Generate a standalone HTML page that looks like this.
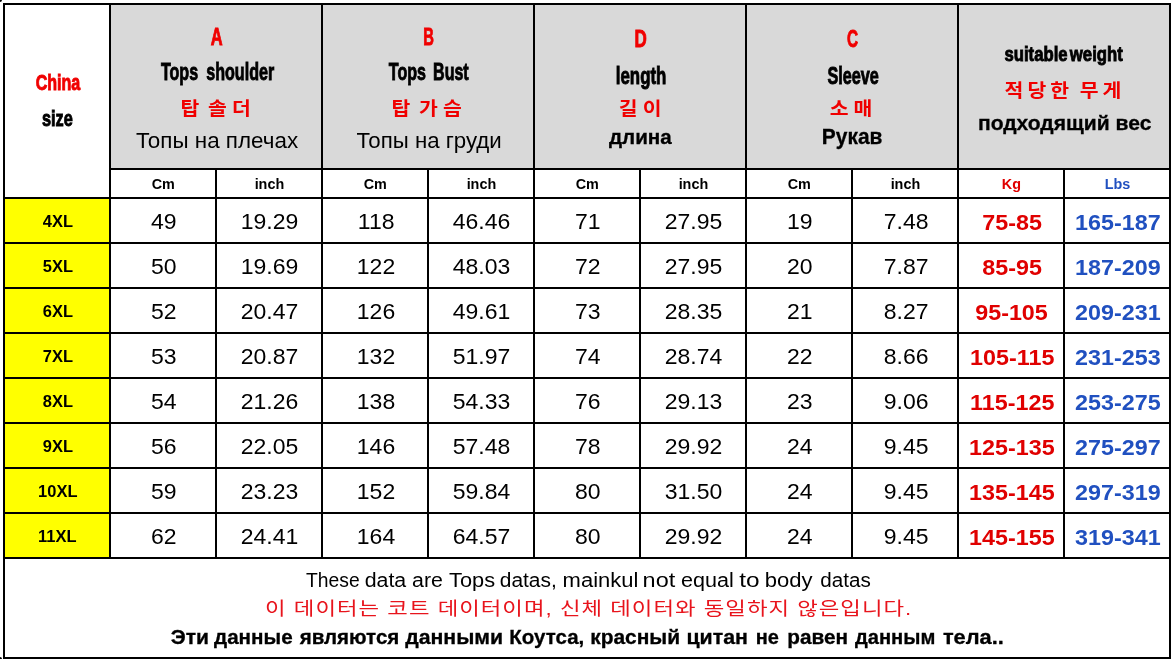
<!DOCTYPE html>
<html lang="en"><head><meta charset="utf-8"><title>Size chart</title>
<style>
html,body{margin:0;padding:0;background:#fff}
#c{position:relative;width:1173px;height:659px;overflow:hidden;background:#fff}
#c div{position:absolute}
#c .t{width:1600px;text-align:center;white-space:nowrap;line-height:1}
#c .t span{display:inline-block;transform-origin:50% 50%}
</style></head><body><div id="c">
<div style="left:111px;top:5px;width:1058px;height:163px;background:#d9d9d9"></div>
<div style="left:5px;top:199px;width:104px;height:358px;background:#ffff00"></div>
<div style="left:3px;top:3px;width:2px;height:656px;background:#000"></div>
<div style="left:109px;top:3px;width:2px;height:556px;background:#000"></div>
<div style="left:215px;top:168px;width:2px;height:391px;background:#000"></div>
<div style="left:321px;top:3px;width:2px;height:556px;background:#000"></div>
<div style="left:427px;top:168px;width:2px;height:391px;background:#000"></div>
<div style="left:533px;top:3px;width:2px;height:556px;background:#000"></div>
<div style="left:639px;top:168px;width:2px;height:391px;background:#000"></div>
<div style="left:745px;top:3px;width:2px;height:556px;background:#000"></div>
<div style="left:851px;top:168px;width:2px;height:391px;background:#000"></div>
<div style="left:957px;top:3px;width:2px;height:556px;background:#000"></div>
<div style="left:1063px;top:168px;width:2px;height:391px;background:#000"></div>
<div style="left:1169px;top:3px;width:2px;height:656px;background:#000"></div>
<div style="left:3px;top:3px;width:1168px;height:2px;background:#000"></div>
<div style="left:109px;top:168px;width:1062px;height:2px;background:#000"></div>
<div style="left:3px;top:197px;width:1168px;height:2px;background:#000"></div>
<div style="left:3px;top:242px;width:1168px;height:2px;background:#000"></div>
<div style="left:3px;top:287px;width:1168px;height:2px;background:#000"></div>
<div style="left:3px;top:332px;width:1168px;height:2px;background:#000"></div>
<div style="left:3px;top:377px;width:1168px;height:2px;background:#000"></div>
<div style="left:3px;top:422px;width:1168px;height:2px;background:#000"></div>
<div style="left:3px;top:467px;width:1168px;height:2px;background:#000"></div>
<div style="left:3px;top:512px;width:1168px;height:2px;background:#000"></div>
<div style="left:3px;top:557px;width:1168px;height:2px;background:#000"></div>
<div style="left:3px;top:657px;width:1168px;height:2px;background:#000"></div>
<div style="left:0;top:0;width:2px;height:2px;background:#000;border-radius:0 0 2px 0"></div>
<div style="left:0;top:657px;width:2px;height:2px;background:#000;border-radius:0 2px 0 0"></div>
<div class="t" id="hA1" style='left:-583.21px;top:24.98px;font-size:23.80px;color:#f00000;font-weight:700;font-family:"Liberation Sans", sans-serif'><span style="transform:scaleX(0.6909);-webkit-text-stroke:0.9px currentColor">A</span></div>
<div class="t" id="hA2" style='left:-582.40px;top:59.51px;font-size:24.00px;color:#000;font-weight:700;font-family:"Liberation Sans", sans-serif'><span style="transform:scaleX(0.6702);word-spacing:5.50px;-webkit-text-stroke:0.9px currentColor">Tops shoulder</span></div>
<div class="t" id="hA3" style='left:-584.28px;top:99.92px;font-size:18.60px;color:#f00000;font-weight:700;font-family:"Liberation Sans", "Noto Sans CJK KR", "NanumGothic", sans-serif'><span style="transform:scaleX(1.1000);letter-spacing:4.66px;margin-right:-4.66px;word-spacing:-6.70px">탑 솔더</span></div>
<div class="t" id="hA4" style='left:-582.63px;top:130.25px;font-size:22.40px;color:#000;font-weight:400;font-family:"Liberation Sans", sans-serif'><span style="transform:scaleX(1.0009)">Топы на плечах</span></div>
<div class="t" id="hB1" style='left:-371.83px;top:24.98px;font-size:23.80px;color:#f00000;font-weight:700;font-family:"Liberation Sans", sans-serif'><span style="transform:scaleX(0.6211);-webkit-text-stroke:0.9px currentColor">B</span></div>
<div class="t" id="hB2" style='left:-371.55px;top:59.51px;font-size:24.00px;color:#000;font-weight:700;font-family:"Liberation Sans", sans-serif'><span style="transform:scaleX(0.6675);word-spacing:4.00px;-webkit-text-stroke:0.9px currentColor">Tops Bust</span></div>
<div class="t" id="hB3" style='left:-373.33px;top:99.92px;font-size:18.60px;color:#f00000;font-weight:700;font-family:"Liberation Sans", "Noto Sans CJK KR", "NanumGothic", sans-serif'><span style="transform:scaleX(1.1000);letter-spacing:4.69px;margin-right:-4.69px;word-spacing:-6.70px">탑 가슴</span></div>
<div class="t" id="hB4" style='left:-370.64px;top:129.96px;font-size:22.40px;color:#000;font-weight:400;font-family:"Liberation Sans", sans-serif'><span style="transform:scaleX(0.9936)">Топы на груди</span></div>
<div class="t" id="hD1" style='left:-159.30px;top:27.17px;font-size:23.80px;color:#f00000;font-weight:700;font-family:"Liberation Sans", sans-serif'><span style="transform:scaleX(0.7136);-webkit-text-stroke:0.9px currentColor">D</span></div>
<div class="t" id="hD2" style='left:-158.87px;top:65.22px;font-size:23.40px;color:#000;font-weight:700;font-family:"Liberation Sans", sans-serif'><span style="transform:scaleX(0.7198);-webkit-text-stroke:0.9px currentColor">length</span></div>
<div class="t" id="hD3" style='left:-159.55px;top:100.04px;font-size:18.60px;color:#f00000;font-weight:700;font-family:"Liberation Sans", "Noto Sans CJK KR", "NanumGothic", sans-serif'><span style="transform:scaleX(1.1000);letter-spacing:4.52px;margin-right:-4.52px;word-spacing:-3.00px">길이</span></div>
<div class="t" id="hD4" style='left:-159.55px;top:126.87px;font-size:20.60px;color:#000;font-weight:700;font-family:"Liberation Sans", sans-serif'><span style="transform:scaleX(1.0015);-webkit-text-stroke:0.3px currentColor">длина</span></div>
<div class="t" id="hC1" style='left:52.31px;top:27.16px;font-size:23.80px;color:#f00000;font-weight:700;font-family:"Liberation Sans", sans-serif'><span style="transform:scaleX(0.6448);-webkit-text-stroke:0.9px currentColor">C</span></div>
<div class="t" id="hC2" style='left:53.20px;top:64.85px;font-size:23.40px;color:#000;font-weight:700;font-family:"Liberation Sans", sans-serif'><span style="transform:scaleX(0.6930);-webkit-text-stroke:0.9px currentColor">Sleeve</span></div>
<div class="t" id="hC3" style='left:51.49px;top:100.11px;font-size:18.60px;color:#f00000;font-weight:700;font-family:"Liberation Sans", "Noto Sans CJK KR", "NanumGothic", sans-serif'><span style="transform:scaleX(1.1000);letter-spacing:4.43px;margin-right:-4.43px;word-spacing:-3.00px">소매</span></div>
<div class="t" id="hC4" style='left:52.49px;top:126.99px;font-size:21.50px;color:#000;font-weight:700;font-family:"Liberation Sans", sans-serif'><span style="transform:scaleX(0.9734);-webkit-text-stroke:0.3px currentColor">Рукав</span></div>
<div class="t" id="hW2" style='left:264.03px;top:44.00px;font-size:20.80px;color:#000;font-weight:700;font-family:"Liberation Sans", sans-serif'><span style="transform:scaleX(0.8039);word-spacing:-3.00px;-webkit-text-stroke:0.9px currentColor">suitable weight</span></div>
<div class="t" id="hW3" style='left:262.73px;top:82.23px;font-size:18.60px;color:#f00000;font-weight:700;font-family:"Liberation Sans", "Noto Sans CJK KR", "NanumGothic", sans-serif'><span style="transform:scaleX(1.1000);letter-spacing:3.71px;margin-right:-3.71px;word-spacing:-3.00px">적당한 무게</span></div>
<div class="t" id="hW4" style='left:264.53px;top:113.21px;font-size:20.80px;color:#000;font-weight:700;font-family:"Liberation Sans", sans-serif'><span style="transform:scaleX(1.0126);-webkit-text-stroke:0.3px currentColor">подходящий вес</span></div>
<div class="t" id="hS1" style='left:-742.08px;top:71.92px;font-size:22.30px;color:#f00000;font-weight:700;font-family:"Liberation Sans", sans-serif'><span style="transform:scaleX(0.7206);-webkit-text-stroke:0.9px currentColor">China</span></div>
<div class="t" id="hS2" style='left:-742.19px;top:109.37px;font-size:21.50px;color:#000;font-weight:700;font-family:"Liberation Sans", sans-serif'><span style="transform:scaleX(0.7589);-webkit-text-stroke:0.9px currentColor">size</span></div>
<div class="t" id="f1w0" style='left:-467.12px;top:570.03px;font-size:20.00px;color:#000;font-weight:400;font-family:"Liberation Sans", sans-serif'><span style="transform:scaleX(0.9651)">These </span></div>
<div class="t" id="f1w1" style='left:-414.50px;top:570.03px;font-size:20.00px;color:#000;font-weight:400;font-family:"Liberation Sans", sans-serif'><span style="transform:scaleX(1.0677)">data </span></div>
<div class="t" id="f1w2" style='left:-372.80px;top:570.03px;font-size:20.00px;color:#000;font-weight:400;font-family:"Liberation Sans", sans-serif'><span style="transform:scaleX(1.0677)">are </span></div>
<div class="t" id="f1w3" style='left:-327.95px;top:570.03px;font-size:20.00px;color:#000;font-weight:400;font-family:"Liberation Sans", sans-serif'><span style="transform:scaleX(1.0888)">Tops </span></div>
<div class="t" id="f1w4" style='left:-271.45px;top:570.03px;font-size:20.00px;color:#000;font-weight:400;font-family:"Liberation Sans", sans-serif'><span style="transform:scaleX(1.0463)">datas, </span></div>
<div class="t" id="f1w5" style='left:-200.00px;top:570.03px;font-size:20.00px;color:#000;font-weight:400;font-family:"Liberation Sans", sans-serif'><span style="transform:scaleX(1.0983)">mainkul </span></div>
<div class="t" id="f1w6" style='left:-141.13px;top:570.03px;font-size:20.00px;color:#000;font-weight:400;font-family:"Liberation Sans", sans-serif'><span style="transform:scaleX(1.1724)">not </span></div>
<div class="t" id="f1w7" style='left:-92.20px;top:570.03px;font-size:20.00px;color:#000;font-weight:400;font-family:"Liberation Sans", sans-serif'><span style="transform:scaleX(1.0785)">equal </span></div>
<div class="t" id="f1w8" style='left:-50.85px;top:570.03px;font-size:20.00px;color:#000;font-weight:400;font-family:"Liberation Sans", sans-serif'><span style="transform:scaleX(1.2195)">to </span></div>
<div class="t" id="f1w9" style='left:-11.82px;top:570.03px;font-size:20.00px;color:#000;font-weight:400;font-family:"Liberation Sans", sans-serif'><span style="transform:scaleX(1.1019)">body </span></div>
<div class="t" id="f1w10" style='left:45.75px;top:570.03px;font-size:20.00px;color:#000;font-weight:400;font-family:"Liberation Sans", sans-serif'><span style="transform:scaleX(1.0311)">datas</span></div>
<div class="t" id="f2" style='left:-212.06px;top:599.72px;font-size:18.60px;color:#e8141c;font-weight:400;font-family:"Liberation Sans", "Noto Sans CJK KR", "NanumGothic", sans-serif'><span style="transform:scaleX(1.2000);letter-spacing:0.86px;margin-right:-0.86px">이 데이터는 코트 데이터이며, 신체 데이터와 동일하지 않은입니다.</span></div>
<div class="t" id="f3w0" style='left:-610.15px;top:627.72px;font-size:19.60px;color:#000;font-weight:700;font-family:"Liberation Sans", sans-serif'><span style="transform:scaleX(1.0747);-webkit-text-stroke:0.3px currentColor">Эти </span></div>
<div class="t" id="f3w1" style='left:-546.63px;top:627.72px;font-size:19.60px;color:#000;font-weight:700;font-family:"Liberation Sans", sans-serif'><span style="transform:scaleX(1.0526);-webkit-text-stroke:0.3px currentColor">данные </span></div>
<div class="t" id="f3w2" style='left:-450.31px;top:627.72px;font-size:19.60px;color:#000;font-weight:700;font-family:"Liberation Sans", sans-serif'><span style="transform:scaleX(1.0492);-webkit-text-stroke:0.3px currentColor">являются </span></div>
<div class="t" id="f3w3" style='left:-345.76px;top:627.72px;font-size:19.60px;color:#000;font-weight:700;font-family:"Liberation Sans", sans-serif'><span style="transform:scaleX(1.0845);-webkit-text-stroke:0.3px currentColor">данными </span></div>
<div class="t" id="f3w4" style='left:-253.55px;top:627.72px;font-size:19.60px;color:#000;font-weight:700;font-family:"Liberation Sans", sans-serif'><span style="transform:scaleX(1.0462);-webkit-text-stroke:0.3px currentColor">Коутса, </span></div>
<div class="t" id="f3w5" style='left:-165.30px;top:627.72px;font-size:19.60px;color:#000;font-weight:700;font-family:"Liberation Sans", sans-serif'><span style="transform:scaleX(1.0671);-webkit-text-stroke:0.3px currentColor">красный </span></div>
<div class="t" id="f3w6" style='left:-82.60px;top:627.72px;font-size:19.60px;color:#000;font-weight:700;font-family:"Liberation Sans", sans-serif'><span style="transform:scaleX(1.0885);-webkit-text-stroke:0.3px currentColor">цитан </span></div>
<div class="t" id="f3w7" style='left:-32.60px;top:627.72px;font-size:19.60px;color:#000;font-weight:700;font-family:"Liberation Sans", sans-serif'><span style="transform:scaleX(1.0199);-webkit-text-stroke:0.3px currentColor">не </span></div>
<div class="t" id="f3w8" style='left:17.25px;top:627.72px;font-size:19.60px;color:#000;font-weight:700;font-family:"Liberation Sans", sans-serif'><span style="transform:scaleX(1.0584);-webkit-text-stroke:0.3px currentColor">равен </span></div>
<div class="t" id="f3w9" style='left:94.90px;top:627.72px;font-size:19.60px;color:#000;font-weight:700;font-family:"Liberation Sans", sans-serif'><span style="transform:scaleX(1.0276);-webkit-text-stroke:0.3px currentColor">данным </span></div>
<div class="t" id="f3w10" style='left:173.30px;top:627.72px;font-size:19.60px;color:#000;font-weight:700;font-family:"Liberation Sans", sans-serif'><span style="transform:scaleX(1.1130);-webkit-text-stroke:0.3px currentColor">тела..</span></div>
<div class="t" id="u0" style='left:-636.83px;top:177.10px;font-size:14.00px;color:#000;font-weight:700;font-family:"Liberation Sans", sans-serif'><span style="transform:scaleX(1.0260)">Cm</span></div>
<div class="t" id="u1" style='left:-530.83px;top:177.10px;font-size:14.00px;color:#000;font-weight:700;font-family:"Liberation Sans", sans-serif'><span style="transform:scaleX(1.0260)">inch</span></div>
<div class="t" id="u2" style='left:-424.83px;top:177.10px;font-size:14.00px;color:#000;font-weight:700;font-family:"Liberation Sans", sans-serif'><span style="transform:scaleX(1.0260)">Cm</span></div>
<div class="t" id="u3" style='left:-318.83px;top:177.10px;font-size:14.00px;color:#000;font-weight:700;font-family:"Liberation Sans", sans-serif'><span style="transform:scaleX(1.0260)">inch</span></div>
<div class="t" id="u4" style='left:-212.83px;top:177.10px;font-size:14.00px;color:#000;font-weight:700;font-family:"Liberation Sans", sans-serif'><span style="transform:scaleX(1.0260)">Cm</span></div>
<div class="t" id="u5" style='left:-106.83px;top:177.10px;font-size:14.00px;color:#000;font-weight:700;font-family:"Liberation Sans", sans-serif'><span style="transform:scaleX(1.0260)">inch</span></div>
<div class="t" id="u6" style='left:-0.83px;top:177.10px;font-size:14.00px;color:#000;font-weight:700;font-family:"Liberation Sans", sans-serif'><span style="transform:scaleX(1.0260)">Cm</span></div>
<div class="t" id="u7" style='left:105.17px;top:177.10px;font-size:14.00px;color:#000;font-weight:700;font-family:"Liberation Sans", sans-serif'><span style="transform:scaleX(1.0260)">inch</span></div>
<div class="t" id="u8" style='left:211.17px;top:177.10px;font-size:14.00px;color:#e00000;font-weight:700;font-family:"Liberation Sans", sans-serif'><span style="transform:scaleX(1.0260)">Kg</span></div>
<div class="t" id="u9" style='left:317.17px;top:177.10px;font-size:14.00px;color:#2050c0;font-weight:700;font-family:"Liberation Sans", sans-serif'><span style="transform:scaleX(1.0260)">Lbs</span></div>
<div class="t" id="r0c0" style='left:-742.37px;top:212.70px;font-size:17.40px;color:#000;font-weight:700;font-family:"Liberation Sans", sans-serif'><span style="transform:scaleX(0.9462)">4XL</span></div>
<div class="t" id="r0c1" style='left:-636.07px;top:210.41px;font-size:22.80px;color:#000;font-weight:400;font-family:"Liberation Sans", sans-serif'><span style="transform:scaleX(1.0089)">49</span></div>
<div class="t" id="r0c2" style='left:-530.07px;top:210.41px;font-size:22.80px;color:#000;font-weight:400;font-family:"Liberation Sans", sans-serif'><span style="transform:scaleX(1.0089)">19.29</span></div>
<div class="t" id="r0c3" style='left:-424.07px;top:210.41px;font-size:22.80px;color:#000;font-weight:400;font-family:"Liberation Sans", sans-serif'><span style="transform:scaleX(1.0089)">118</span></div>
<div class="t" id="r0c4" style='left:-318.07px;top:210.41px;font-size:22.80px;color:#000;font-weight:400;font-family:"Liberation Sans", sans-serif'><span style="transform:scaleX(1.0089)">46.46</span></div>
<div class="t" id="r0c5" style='left:-212.07px;top:210.41px;font-size:22.80px;color:#000;font-weight:400;font-family:"Liberation Sans", sans-serif'><span style="transform:scaleX(1.0089)">71</span></div>
<div class="t" id="r0c6" style='left:-106.07px;top:210.41px;font-size:22.80px;color:#000;font-weight:400;font-family:"Liberation Sans", sans-serif'><span style="transform:scaleX(1.0089)">27.95</span></div>
<div class="t" id="r0c7" style='left:-0.07px;top:210.41px;font-size:22.80px;color:#000;font-weight:400;font-family:"Liberation Sans", sans-serif'><span style="transform:scaleX(1.0089)">19</span></div>
<div class="t" id="r0c8" style='left:105.93px;top:210.41px;font-size:22.80px;color:#000;font-weight:400;font-family:"Liberation Sans", sans-serif'><span style="transform:scaleX(1.0089)">7.48</span></div>
<div class="t" id="r0c9" style='left:211.89px;top:210.70px;font-size:22.80px;color:#e00000;font-weight:700;font-family:"Liberation Sans", sans-serif'><span style="transform:scaleX(1.0229)">75-85</span></div>
<div class="t" id="r0c10" style='left:317.89px;top:210.70px;font-size:22.80px;color:#2050c0;font-weight:700;font-family:"Liberation Sans", sans-serif'><span style="transform:scaleX(1.0229)">165-187</span></div>
<div class="t" id="r1c0" style='left:-742.37px;top:257.70px;font-size:17.40px;color:#000;font-weight:700;font-family:"Liberation Sans", sans-serif'><span style="transform:scaleX(0.9462)">5XL</span></div>
<div class="t" id="r1c1" style='left:-636.07px;top:255.41px;font-size:22.80px;color:#000;font-weight:400;font-family:"Liberation Sans", sans-serif'><span style="transform:scaleX(1.0089)">50</span></div>
<div class="t" id="r1c2" style='left:-530.07px;top:255.41px;font-size:22.80px;color:#000;font-weight:400;font-family:"Liberation Sans", sans-serif'><span style="transform:scaleX(1.0089)">19.69</span></div>
<div class="t" id="r1c3" style='left:-424.07px;top:255.41px;font-size:22.80px;color:#000;font-weight:400;font-family:"Liberation Sans", sans-serif'><span style="transform:scaleX(1.0089)">122</span></div>
<div class="t" id="r1c4" style='left:-318.07px;top:255.41px;font-size:22.80px;color:#000;font-weight:400;font-family:"Liberation Sans", sans-serif'><span style="transform:scaleX(1.0089)">48.03</span></div>
<div class="t" id="r1c5" style='left:-212.07px;top:255.41px;font-size:22.80px;color:#000;font-weight:400;font-family:"Liberation Sans", sans-serif'><span style="transform:scaleX(1.0089)">72</span></div>
<div class="t" id="r1c6" style='left:-106.07px;top:255.41px;font-size:22.80px;color:#000;font-weight:400;font-family:"Liberation Sans", sans-serif'><span style="transform:scaleX(1.0089)">27.95</span></div>
<div class="t" id="r1c7" style='left:-0.07px;top:255.41px;font-size:22.80px;color:#000;font-weight:400;font-family:"Liberation Sans", sans-serif'><span style="transform:scaleX(1.0089)">20</span></div>
<div class="t" id="r1c8" style='left:105.93px;top:255.41px;font-size:22.80px;color:#000;font-weight:400;font-family:"Liberation Sans", sans-serif'><span style="transform:scaleX(1.0089)">7.87</span></div>
<div class="t" id="r1c9" style='left:211.89px;top:255.70px;font-size:22.80px;color:#e00000;font-weight:700;font-family:"Liberation Sans", sans-serif'><span style="transform:scaleX(1.0229)">85-95</span></div>
<div class="t" id="r1c10" style='left:317.89px;top:255.70px;font-size:22.80px;color:#2050c0;font-weight:700;font-family:"Liberation Sans", sans-serif'><span style="transform:scaleX(1.0229)">187-209</span></div>
<div class="t" id="r2c0" style='left:-742.37px;top:302.70px;font-size:17.40px;color:#000;font-weight:700;font-family:"Liberation Sans", sans-serif'><span style="transform:scaleX(0.9462)">6XL</span></div>
<div class="t" id="r2c1" style='left:-636.07px;top:300.41px;font-size:22.80px;color:#000;font-weight:400;font-family:"Liberation Sans", sans-serif'><span style="transform:scaleX(1.0089)">52</span></div>
<div class="t" id="r2c2" style='left:-530.07px;top:300.41px;font-size:22.80px;color:#000;font-weight:400;font-family:"Liberation Sans", sans-serif'><span style="transform:scaleX(1.0089)">20.47</span></div>
<div class="t" id="r2c3" style='left:-424.07px;top:300.41px;font-size:22.80px;color:#000;font-weight:400;font-family:"Liberation Sans", sans-serif'><span style="transform:scaleX(1.0089)">126</span></div>
<div class="t" id="r2c4" style='left:-318.07px;top:300.41px;font-size:22.80px;color:#000;font-weight:400;font-family:"Liberation Sans", sans-serif'><span style="transform:scaleX(1.0089)">49.61</span></div>
<div class="t" id="r2c5" style='left:-212.07px;top:300.41px;font-size:22.80px;color:#000;font-weight:400;font-family:"Liberation Sans", sans-serif'><span style="transform:scaleX(1.0089)">73</span></div>
<div class="t" id="r2c6" style='left:-106.07px;top:300.41px;font-size:22.80px;color:#000;font-weight:400;font-family:"Liberation Sans", sans-serif'><span style="transform:scaleX(1.0089)">28.35</span></div>
<div class="t" id="r2c7" style='left:-0.07px;top:300.41px;font-size:22.80px;color:#000;font-weight:400;font-family:"Liberation Sans", sans-serif'><span style="transform:scaleX(1.0089)">21</span></div>
<div class="t" id="r2c8" style='left:105.93px;top:300.41px;font-size:22.80px;color:#000;font-weight:400;font-family:"Liberation Sans", sans-serif'><span style="transform:scaleX(1.0089)">8.27</span></div>
<div class="t" id="r2c9" style='left:211.89px;top:300.70px;font-size:22.80px;color:#e00000;font-weight:700;font-family:"Liberation Sans", sans-serif'><span style="transform:scaleX(1.0229)">95-105</span></div>
<div class="t" id="r2c10" style='left:317.89px;top:300.70px;font-size:22.80px;color:#2050c0;font-weight:700;font-family:"Liberation Sans", sans-serif'><span style="transform:scaleX(1.0229)">209-231</span></div>
<div class="t" id="r3c0" style='left:-742.37px;top:347.70px;font-size:17.40px;color:#000;font-weight:700;font-family:"Liberation Sans", sans-serif'><span style="transform:scaleX(0.9462)">7XL</span></div>
<div class="t" id="r3c1" style='left:-636.07px;top:345.41px;font-size:22.80px;color:#000;font-weight:400;font-family:"Liberation Sans", sans-serif'><span style="transform:scaleX(1.0089)">53</span></div>
<div class="t" id="r3c2" style='left:-530.07px;top:345.41px;font-size:22.80px;color:#000;font-weight:400;font-family:"Liberation Sans", sans-serif'><span style="transform:scaleX(1.0089)">20.87</span></div>
<div class="t" id="r3c3" style='left:-424.07px;top:345.41px;font-size:22.80px;color:#000;font-weight:400;font-family:"Liberation Sans", sans-serif'><span style="transform:scaleX(1.0089)">132</span></div>
<div class="t" id="r3c4" style='left:-318.07px;top:345.41px;font-size:22.80px;color:#000;font-weight:400;font-family:"Liberation Sans", sans-serif'><span style="transform:scaleX(1.0089)">51.97</span></div>
<div class="t" id="r3c5" style='left:-212.07px;top:345.41px;font-size:22.80px;color:#000;font-weight:400;font-family:"Liberation Sans", sans-serif'><span style="transform:scaleX(1.0089)">74</span></div>
<div class="t" id="r3c6" style='left:-106.07px;top:345.41px;font-size:22.80px;color:#000;font-weight:400;font-family:"Liberation Sans", sans-serif'><span style="transform:scaleX(1.0089)">28.74</span></div>
<div class="t" id="r3c7" style='left:-0.07px;top:345.41px;font-size:22.80px;color:#000;font-weight:400;font-family:"Liberation Sans", sans-serif'><span style="transform:scaleX(1.0089)">22</span></div>
<div class="t" id="r3c8" style='left:105.93px;top:345.41px;font-size:22.80px;color:#000;font-weight:400;font-family:"Liberation Sans", sans-serif'><span style="transform:scaleX(1.0089)">8.66</span></div>
<div class="t" id="r3c9" style='left:211.89px;top:345.70px;font-size:22.80px;color:#e00000;font-weight:700;font-family:"Liberation Sans", sans-serif'><span style="transform:scaleX(1.0229)">105-115</span></div>
<div class="t" id="r3c10" style='left:317.89px;top:345.70px;font-size:22.80px;color:#2050c0;font-weight:700;font-family:"Liberation Sans", sans-serif'><span style="transform:scaleX(1.0229)">231-253</span></div>
<div class="t" id="r4c0" style='left:-742.37px;top:392.70px;font-size:17.40px;color:#000;font-weight:700;font-family:"Liberation Sans", sans-serif'><span style="transform:scaleX(0.9462)">8XL</span></div>
<div class="t" id="r4c1" style='left:-636.07px;top:390.41px;font-size:22.80px;color:#000;font-weight:400;font-family:"Liberation Sans", sans-serif'><span style="transform:scaleX(1.0089)">54</span></div>
<div class="t" id="r4c2" style='left:-530.07px;top:390.41px;font-size:22.80px;color:#000;font-weight:400;font-family:"Liberation Sans", sans-serif'><span style="transform:scaleX(1.0089)">21.26</span></div>
<div class="t" id="r4c3" style='left:-424.07px;top:390.41px;font-size:22.80px;color:#000;font-weight:400;font-family:"Liberation Sans", sans-serif'><span style="transform:scaleX(1.0089)">138</span></div>
<div class="t" id="r4c4" style='left:-318.07px;top:390.41px;font-size:22.80px;color:#000;font-weight:400;font-family:"Liberation Sans", sans-serif'><span style="transform:scaleX(1.0089)">54.33</span></div>
<div class="t" id="r4c5" style='left:-212.07px;top:390.41px;font-size:22.80px;color:#000;font-weight:400;font-family:"Liberation Sans", sans-serif'><span style="transform:scaleX(1.0089)">76</span></div>
<div class="t" id="r4c6" style='left:-106.07px;top:390.41px;font-size:22.80px;color:#000;font-weight:400;font-family:"Liberation Sans", sans-serif'><span style="transform:scaleX(1.0089)">29.13</span></div>
<div class="t" id="r4c7" style='left:-0.07px;top:390.41px;font-size:22.80px;color:#000;font-weight:400;font-family:"Liberation Sans", sans-serif'><span style="transform:scaleX(1.0089)">23</span></div>
<div class="t" id="r4c8" style='left:105.93px;top:390.41px;font-size:22.80px;color:#000;font-weight:400;font-family:"Liberation Sans", sans-serif'><span style="transform:scaleX(1.0089)">9.06</span></div>
<div class="t" id="r4c9" style='left:211.89px;top:390.70px;font-size:22.80px;color:#e00000;font-weight:700;font-family:"Liberation Sans", sans-serif'><span style="transform:scaleX(1.0229)">115-125</span></div>
<div class="t" id="r4c10" style='left:317.89px;top:390.70px;font-size:22.80px;color:#2050c0;font-weight:700;font-family:"Liberation Sans", sans-serif'><span style="transform:scaleX(1.0229)">253-275</span></div>
<div class="t" id="r5c0" style='left:-742.37px;top:437.70px;font-size:17.40px;color:#000;font-weight:700;font-family:"Liberation Sans", sans-serif'><span style="transform:scaleX(0.9462)">9XL</span></div>
<div class="t" id="r5c1" style='left:-636.07px;top:435.41px;font-size:22.80px;color:#000;font-weight:400;font-family:"Liberation Sans", sans-serif'><span style="transform:scaleX(1.0089)">56</span></div>
<div class="t" id="r5c2" style='left:-530.07px;top:435.41px;font-size:22.80px;color:#000;font-weight:400;font-family:"Liberation Sans", sans-serif'><span style="transform:scaleX(1.0089)">22.05</span></div>
<div class="t" id="r5c3" style='left:-424.07px;top:435.41px;font-size:22.80px;color:#000;font-weight:400;font-family:"Liberation Sans", sans-serif'><span style="transform:scaleX(1.0089)">146</span></div>
<div class="t" id="r5c4" style='left:-318.07px;top:435.41px;font-size:22.80px;color:#000;font-weight:400;font-family:"Liberation Sans", sans-serif'><span style="transform:scaleX(1.0089)">57.48</span></div>
<div class="t" id="r5c5" style='left:-212.07px;top:435.41px;font-size:22.80px;color:#000;font-weight:400;font-family:"Liberation Sans", sans-serif'><span style="transform:scaleX(1.0089)">78</span></div>
<div class="t" id="r5c6" style='left:-106.07px;top:435.41px;font-size:22.80px;color:#000;font-weight:400;font-family:"Liberation Sans", sans-serif'><span style="transform:scaleX(1.0089)">29.92</span></div>
<div class="t" id="r5c7" style='left:-0.07px;top:435.41px;font-size:22.80px;color:#000;font-weight:400;font-family:"Liberation Sans", sans-serif'><span style="transform:scaleX(1.0089)">24</span></div>
<div class="t" id="r5c8" style='left:105.93px;top:435.41px;font-size:22.80px;color:#000;font-weight:400;font-family:"Liberation Sans", sans-serif'><span style="transform:scaleX(1.0089)">9.45</span></div>
<div class="t" id="r5c9" style='left:211.89px;top:435.70px;font-size:22.80px;color:#e00000;font-weight:700;font-family:"Liberation Sans", sans-serif'><span style="transform:scaleX(1.0229)">125-135</span></div>
<div class="t" id="r5c10" style='left:317.89px;top:435.70px;font-size:22.80px;color:#2050c0;font-weight:700;font-family:"Liberation Sans", sans-serif'><span style="transform:scaleX(1.0229)">275-297</span></div>
<div class="t" id="r6c0" style='left:-742.37px;top:482.70px;font-size:17.40px;color:#000;font-weight:700;font-family:"Liberation Sans", sans-serif'><span style="transform:scaleX(0.9462)">10XL</span></div>
<div class="t" id="r6c1" style='left:-636.07px;top:480.41px;font-size:22.80px;color:#000;font-weight:400;font-family:"Liberation Sans", sans-serif'><span style="transform:scaleX(1.0089)">59</span></div>
<div class="t" id="r6c2" style='left:-530.07px;top:480.41px;font-size:22.80px;color:#000;font-weight:400;font-family:"Liberation Sans", sans-serif'><span style="transform:scaleX(1.0089)">23.23</span></div>
<div class="t" id="r6c3" style='left:-424.07px;top:480.41px;font-size:22.80px;color:#000;font-weight:400;font-family:"Liberation Sans", sans-serif'><span style="transform:scaleX(1.0089)">152</span></div>
<div class="t" id="r6c4" style='left:-318.07px;top:480.41px;font-size:22.80px;color:#000;font-weight:400;font-family:"Liberation Sans", sans-serif'><span style="transform:scaleX(1.0089)">59.84</span></div>
<div class="t" id="r6c5" style='left:-212.07px;top:480.41px;font-size:22.80px;color:#000;font-weight:400;font-family:"Liberation Sans", sans-serif'><span style="transform:scaleX(1.0089)">80</span></div>
<div class="t" id="r6c6" style='left:-106.07px;top:480.41px;font-size:22.80px;color:#000;font-weight:400;font-family:"Liberation Sans", sans-serif'><span style="transform:scaleX(1.0089)">31.50</span></div>
<div class="t" id="r6c7" style='left:-0.07px;top:480.41px;font-size:22.80px;color:#000;font-weight:400;font-family:"Liberation Sans", sans-serif'><span style="transform:scaleX(1.0089)">24</span></div>
<div class="t" id="r6c8" style='left:105.93px;top:480.41px;font-size:22.80px;color:#000;font-weight:400;font-family:"Liberation Sans", sans-serif'><span style="transform:scaleX(1.0089)">9.45</span></div>
<div class="t" id="r6c9" style='left:211.89px;top:480.70px;font-size:22.80px;color:#e00000;font-weight:700;font-family:"Liberation Sans", sans-serif'><span style="transform:scaleX(1.0229)">135-145</span></div>
<div class="t" id="r6c10" style='left:317.89px;top:480.70px;font-size:22.80px;color:#2050c0;font-weight:700;font-family:"Liberation Sans", sans-serif'><span style="transform:scaleX(1.0229)">297-319</span></div>
<div class="t" id="r7c0" style='left:-742.37px;top:527.70px;font-size:17.40px;color:#000;font-weight:700;font-family:"Liberation Sans", sans-serif'><span style="transform:scaleX(0.9462)">11XL</span></div>
<div class="t" id="r7c1" style='left:-636.07px;top:525.41px;font-size:22.80px;color:#000;font-weight:400;font-family:"Liberation Sans", sans-serif'><span style="transform:scaleX(1.0089)">62</span></div>
<div class="t" id="r7c2" style='left:-530.07px;top:525.41px;font-size:22.80px;color:#000;font-weight:400;font-family:"Liberation Sans", sans-serif'><span style="transform:scaleX(1.0089)">24.41</span></div>
<div class="t" id="r7c3" style='left:-424.07px;top:525.41px;font-size:22.80px;color:#000;font-weight:400;font-family:"Liberation Sans", sans-serif'><span style="transform:scaleX(1.0089)">164</span></div>
<div class="t" id="r7c4" style='left:-318.07px;top:525.41px;font-size:22.80px;color:#000;font-weight:400;font-family:"Liberation Sans", sans-serif'><span style="transform:scaleX(1.0089)">64.57</span></div>
<div class="t" id="r7c5" style='left:-212.07px;top:525.41px;font-size:22.80px;color:#000;font-weight:400;font-family:"Liberation Sans", sans-serif'><span style="transform:scaleX(1.0089)">80</span></div>
<div class="t" id="r7c6" style='left:-106.07px;top:525.41px;font-size:22.80px;color:#000;font-weight:400;font-family:"Liberation Sans", sans-serif'><span style="transform:scaleX(1.0089)">29.92</span></div>
<div class="t" id="r7c7" style='left:-0.07px;top:525.41px;font-size:22.80px;color:#000;font-weight:400;font-family:"Liberation Sans", sans-serif'><span style="transform:scaleX(1.0089)">24</span></div>
<div class="t" id="r7c8" style='left:105.93px;top:525.41px;font-size:22.80px;color:#000;font-weight:400;font-family:"Liberation Sans", sans-serif'><span style="transform:scaleX(1.0089)">9.45</span></div>
<div class="t" id="r7c9" style='left:211.89px;top:525.70px;font-size:22.80px;color:#e00000;font-weight:700;font-family:"Liberation Sans", sans-serif'><span style="transform:scaleX(1.0229)">145-155</span></div>
<div class="t" id="r7c10" style='left:317.89px;top:525.70px;font-size:22.80px;color:#2050c0;font-weight:700;font-family:"Liberation Sans", sans-serif'><span style="transform:scaleX(1.0229)">319-341</span></div>
</div></body></html>
